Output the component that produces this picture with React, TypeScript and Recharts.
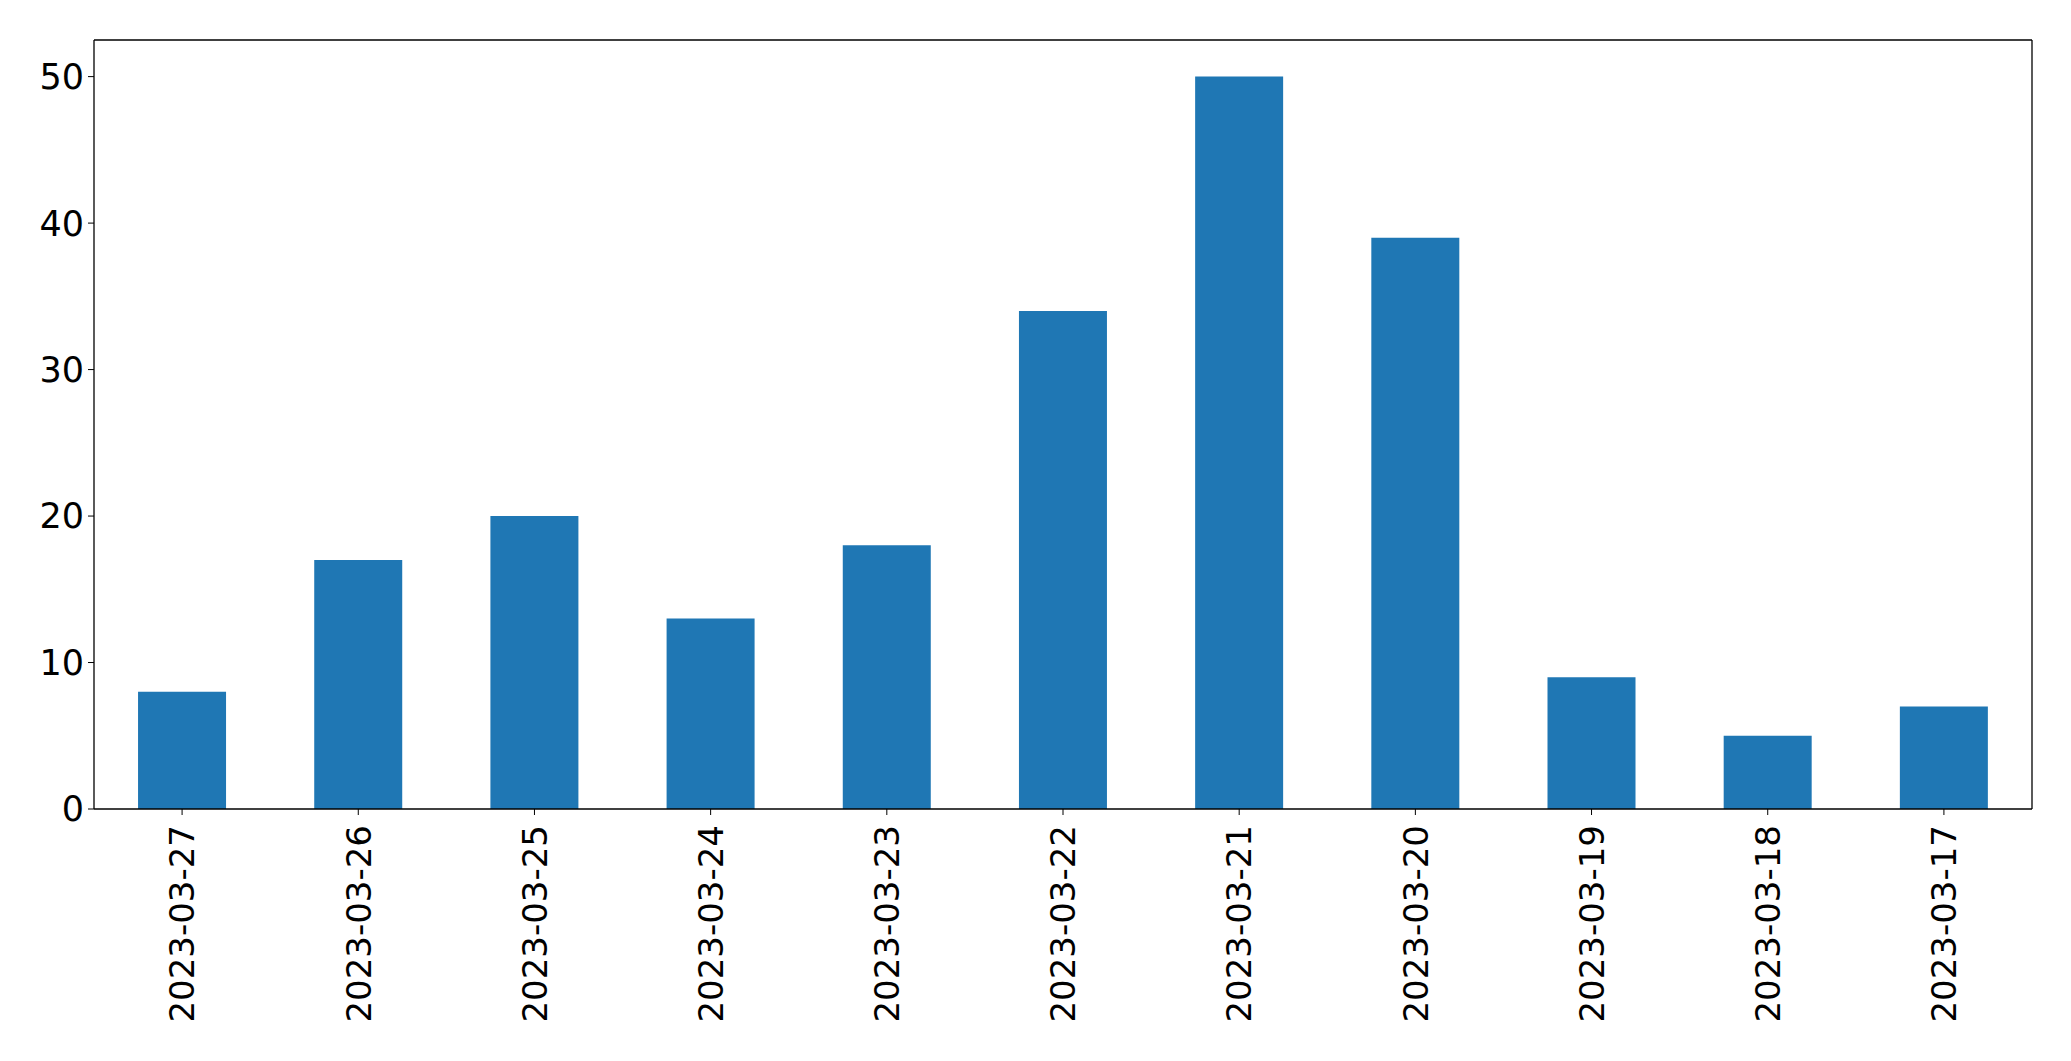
import { BarChart, Bar, XAxis, YAxis, ReferenceLine } from 'recharts'

const dates = [
  '2023-03-27',
  '2023-03-26',
  '2023-03-25',
  '2023-03-24',
  '2023-03-23',
  '2023-03-22',
  '2023-03-21',
  '2023-03-20',
  '2023-03-19',
  '2023-03-18',
  '2023-03-17',
]
const counts = [8, 17, 20, 13, 18, 34, 50, 39, 9, 5, 7]
const yTicks = [0, 10, 20, 30, 40, 50]
const yMax = 52.5

const chartData = dates.map((d, i) => ({ date: d, count: counts[i] }))

const FONT = "'DejaVu Sans', sans-serif"

// labels rotated 90°, reading bottom to top, ending just under the tick
function DateTick(props: any) {
  const { x, y, payload } = props
  return (
    <g transform={`translate(${x},${y})`}>
      <text
        transform="rotate(-90)"
        x={-8}
        y={0}
        dy="0.36em"
        textAnchor="end"
        fontSize={34}
        fontFamily={FONT}
        fill="#000"
      >
        {payload.value}
      </text>
    </g>
  )
}

export default function App() {
  return (
    <div style={{ position: 'absolute', left: 0, top: 0, background: '#fff' }}>
      <BarChart
        width={2071}
        height={1061}
        data={chartData}
        margin={{ top: 40, right: 38, bottom: 0, left: 0 }}
        barCategoryGap="25%"
      >
        <XAxis
          dataKey="date"
          height={252}
          interval={0}
          tickSize={6}
          tickMargin={2}
          stroke="#000"
          tickLine={{ stroke: '#000' }}
          axisLine={{ stroke: '#000', strokeWidth: 1.3 }}
          tick={<DateTick />}
        />
        <YAxis
          width={94}
          domain={[0, yMax]}
          ticks={yTicks}
          interval={0}
          tickSize={6}
          tickMargin={4}
          stroke="#000"
          axisLine={{ stroke: '#000', strokeWidth: 1.3 }}
          tick={{ fill: '#000', fontSize: 35, fontFamily: FONT }}
        />
        <YAxis
          yAxisId="right"
          orientation="right"
          width={1}
          domain={[0, yMax]}
          tick={false}
          tickLine={false}
          stroke="#000"
          axisLine={{ stroke: '#000', strokeWidth: 1.3 }}
        />
        <ReferenceLine y={yMax} stroke="#000" strokeWidth={1.3} />
        <Bar dataKey="count" fill="#1f77b4" isAnimationActive={false} />
      </BarChart>
    </div>
  )
}
